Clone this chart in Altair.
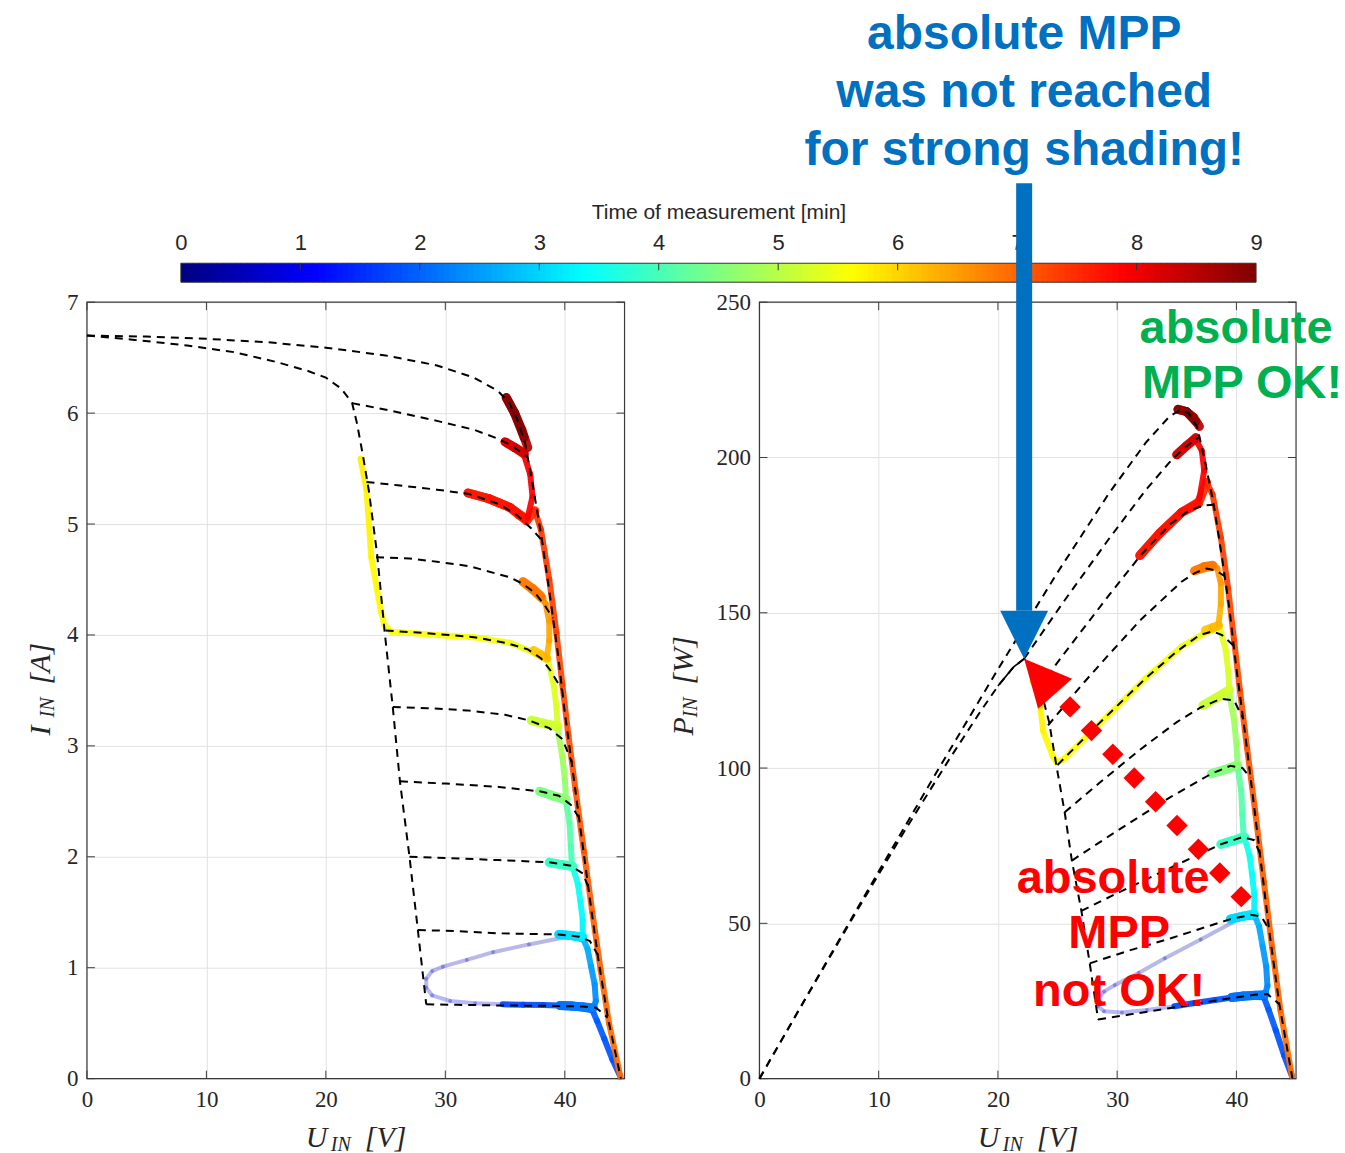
import numpy as np
import pandas as pd
import altair as alt

# ---------------- simulated characteristics: (U [V], I [A]) ----------------
# unshaded module, down to open circuit
unshaded = [(0.0, 6.70), (5.0, 6.69), (10.0, 6.67), (15.0, 6.64), (20.0, 6.59),
            (25.0, 6.52), (29.3, 6.43), (32.4, 6.32), (34.4, 6.20), (35.3, 6.10),
            (36.0, 5.95), (36.7, 5.72), (37.4, 5.30), (38.1, 4.85), (38.8, 4.32),
            (39.4, 3.85), (40.0, 3.30), (40.7, 2.75), (41.4, 2.18), (42.1, 1.62),
            (42.8, 1.08), (43.6, 0.55), (44.7, 0.00)]
# shaded module with one substring bypassed
bypassed = [(0.0, 6.70), (4.0, 6.66), (8.4, 6.61), (12.3, 6.55), (15.9, 6.46),
            (18.5, 6.38), (20.0, 6.32), (21.3, 6.22), (22.2, 6.09), (22.6, 5.91),
            (23.1, 5.62), (23.6, 5.30), (24.3, 4.72), (24.9, 4.05), (25.6, 3.35),
            (26.2, 2.68), (27.0, 2.00), (27.7, 1.34), (28.4, 0.67)]
# step from the bypassed branch to the full string, one per shading level
step_a = [(22.2, 6.09), (25.5, 6.02), (29.3, 5.93), (32.4, 5.85), (34.4, 5.77), (35.5, 5.71), (36.3, 5.65), (36.9, 5.60)]
step_b = [(23.4, 5.38), (26.0, 5.35), (29.3, 5.31), (32.0, 5.27), (34.5, 5.18), (36.0, 5.08), (37.2, 4.96), (38.1, 4.85)]
step_c = [(24.2, 4.70), (27.0, 4.69), (29.3, 4.66), (32.0, 4.62), (35.4, 4.52), (36.5, 4.46), (37.5, 4.38), (38.3, 4.27), (39.0, 4.15)]
step_d = [(25.0, 4.04), (28.0, 4.02), (32.4, 3.98), (35.0, 3.93), (36.9, 3.87), (38.0, 3.79), (38.8, 3.68), (39.8, 3.50)]
step_e = [(25.6, 3.35), (28.5, 3.34), (31.8, 3.32), (35.0, 3.28), (37.0, 3.23), (38.7, 3.16), (39.8, 3.06), (40.6, 2.85)]
step_f = [(26.2, 2.68), (30.0, 2.66), (34.5, 2.63), (37.9, 2.59), (39.5, 2.55), (40.5, 2.47), (41.2, 2.35)]
step_g = [(27.0, 2.00), (30.0, 1.99), (34.5, 1.97), (38.7, 1.95), (40.5, 1.92), (41.5, 1.85), (42.0, 1.72)]
step_h = [(27.7, 1.34), (31.0, 1.33), (34.5, 1.31), (39.5, 1.30), (41.2, 1.28), (42.1, 1.24), (42.75, 1.12)]
step_j = [(28.4, 0.67), (31.0, 0.665), (34.5, 0.66), (39.5, 0.655), (41.5, 0.65), (42.6, 0.64), (43.6, 0.55)]

# ---------------- measured operating point: (U [V], I [A], time [min]) ----------------
fast_jump = [(39.8, 1.27, 0.30), (37.0, 1.21, 0.38), (34.0, 1.14, 0.46), (31.8, 1.07, 0.52),
             (29.8, 1.01, 0.58), (28.9, 0.97, 0.62), (28.4, 0.90, 0.65), (28.4, 0.82, 0.68),
             (28.9, 0.75, 0.71), (30.4, 0.70, 0.76), (32.5, 0.68, 0.82), (34.8, 0.67, 0.90)]
run_j_left = [(34.8, 0.670, 1.70), (36.5, 0.667, 1.76), (38.2, 0.663, 1.82), (39.5, 0.660, 1.88)]
run_start = [(44.65, 0.02, 1.80), (44.0, 0.17, 1.84), (43.3, 0.36, 1.88), (42.7, 0.52, 1.92), (42.3, 0.62, 1.95)]
hold_j = [(42.3, 0.63, 1.95), (41.5, 0.645, 2.00), (40.5, 0.655, 2.05), (39.6, 0.66, 2.10),
          (40.6, 0.655, 2.15), (41.6, 0.645, 2.20), (42.4, 0.64, 2.25)]
run_jh = [(42.4, 0.64, 2.25), (42.6, 0.70, 2.30), (42.5, 0.85, 2.40), (42.2, 1.01, 2.52), (41.9, 1.17, 2.65), (41.5, 1.27, 2.78)]
hold_h = [(41.5, 1.27, 2.80), (40.5, 1.29, 2.90), (39.5, 1.30, 3.00), (40.5, 1.29, 3.10), (41.5, 1.28, 3.20)]
run_hg = [(41.5, 1.28, 3.20), (41.5, 1.43, 3.30), (41.3, 1.60, 3.40), (41.1, 1.75, 3.50), (40.7, 1.90, 3.60)]
hold_g = [(40.7, 1.91, 3.60), (39.7, 1.93, 3.70), (38.7, 1.95, 3.80), (39.7, 1.93, 3.90), (40.6, 1.92, 3.95)]
run_gf = [(40.6, 1.93, 3.95), (40.5, 2.10, 4.05), (40.4, 2.30, 4.15), (40.1, 2.50, 4.25)]
hold_f = [(40.1, 2.51, 4.25), (39.0, 2.55, 4.35), (37.9, 2.59, 4.45), (39.0, 2.55, 4.55), (40.1, 2.52, 4.60)]
run_fe = [(40.1, 2.53, 4.60), (40.0, 2.70, 4.70), (39.8, 2.90, 4.80), (39.4, 3.15, 4.90)]
hold_e = [(39.4, 3.17, 4.90), (38.3, 3.20, 5.00), (37.2, 3.23, 5.10), (38.3, 3.20, 5.18), (39.4, 3.18, 5.25)]
run_ed = [(39.4, 3.19, 5.25), (39.3, 3.35, 5.30), (39.1, 3.53, 5.35), (38.6, 3.77, 5.40)]
run_d = [(38.6, 3.78, 5.40), (38.0, 3.80, 5.43), (37.2, 3.85, 5.46), (35.4, 3.93, 5.50), (32.4, 3.98, 5.54),
         (29.3, 4.00, 5.58), (25.5, 4.03, 5.62), (24.9, 4.09, 5.64), (24.6, 4.22, 5.66), (23.8, 4.70, 5.70),
         (23.4, 5.31, 5.74), (22.9, 5.59, 5.78)]
hold_d = [(37.4, 3.86, 6.10), (38.0, 3.82, 6.18), (38.5, 3.79, 6.25)]
run_dc = [(38.5, 3.80, 6.25), (38.7, 3.95, 6.35), (38.7, 4.12, 6.45), (38.4, 4.28, 6.55), (38.1, 4.33, 6.60)]
hold_c = [(38.1, 4.33, 6.60), (37.3, 4.41, 6.68), (36.5, 4.48, 6.75), (37.3, 4.42, 6.82), (38.0, 4.35, 6.88)]
run_sweep = [(44.65, 0.02, 6.90), (43.7, 0.50, 6.95), (43.0, 0.98, 7.00), (42.3, 1.50, 7.05), (41.6, 2.05, 7.10),
             (40.9, 2.60, 7.15), (40.3, 3.10, 7.20), (39.8, 3.55, 7.25), (39.3, 4.02, 7.30), (38.7, 4.50, 7.35),
             (38.0, 4.95, 7.40), (37.5, 5.12, 7.45)]
hold_b = [(37.5, 5.12, 7.45), (36.8, 5.03, 7.50), (36.2, 5.08, 7.53), (35.4, 5.15, 7.56), (33.6, 5.23, 7.60),
          (31.9, 5.28, 7.64), (33.6, 5.23, 7.68), (35.4, 5.15, 7.72), (36.7, 5.05, 7.78)]
run_ba = [(36.9, 5.06, 7.85), (37.3, 5.25, 7.90), (37.1, 5.45, 7.95), (36.6, 5.62, 8.00)]
hold_a = [(36.6, 5.63, 8.00), (35.8, 5.69, 8.08), (35.0, 5.74, 8.15), (35.8, 5.69, 8.22), (36.6, 5.64, 8.28)]
hold_top = [(36.9, 5.69, 8.40), (36.4, 5.85, 8.55), (35.8, 6.00, 8.70), (35.1, 6.14, 8.85),
            (35.8, 6.00, 8.92), (36.6, 5.78, 9.00)]

# axis ticks
ticks_u = [0, 10, 20, 30, 40]
ticks_i = [0, 1, 2, 3, 4, 5, 6, 7]
ticks_p = [0, 50, 100, 150, 200, 250]
ticks_t = list(range(10))

# ---------------- tables ----------------
sim_curves = [("unshaded", unshaded), ("bypassed", bypassed), ("a", step_a), ("b", step_b),
              ("c", step_c), ("d", step_d), ("e", step_e), ("f", step_f), ("g", step_g),
              ("h", step_h), ("j", step_j)]
sim = pd.DataFrame([dict(curve=n, k=k, U=u, I=i, P=u * i)
                    for n, pts in sim_curves for k, (u, i) in enumerate(pts)])

pieces = [("fast", fast_jump), ("move", run_j_left), ("move", run_start), ("hold", hold_j),
          ("move", run_jh), ("hold", hold_h), ("move", run_hg), ("hold", hold_g),
          ("move", run_gf), ("hold", hold_f), ("move", run_fe), ("hold", hold_e),
          ("move", run_ed), ("move", run_d), ("hold", hold_d), ("move", run_dc),
          ("hold", hold_c), ("move", run_sweep), ("hold", hold_b), ("move", run_ba),
          ("hold", hold_a), ("hold", hold_top)]
seg = pd.DataFrame([dict(kind=kind, U=u1, I=i1, U2=u2, I2=i2, P=u1 * i1, P2=u2 * i2, t=(t1 + t2) / 2)
                    for kind, pts in pieces
                    for (u1, i1, t1), (u2, i2, t2) in zip(pts[:-1], pts[1:])])
seg = seg.sort_values("t", kind="stable").reset_index(drop=True)

# absolute maximum power point of the bypassed characteristic
byp = pd.DataFrame(bypassed, columns=["U", "I"])
byp["P"] = byp.U * byp.I
mpp = byp.loc[byp.P.idxmax()]
# the power hump around that maximum, drawn solid
hump = byp[(byp.U >= 19.5) & (byp.U <= mpp.U + 0.5)]

# ---------------- layout and style ----------------
W_L, W_R, H = 538, 537, 777
GAP = 135
CB_H = 19
CB_X0, CB_X1 = 94, 1170          # colour bar ends, relative to the left plot
P_PX = H / 250.0                  # pixels per watt in the power panel
BLUE, GREEN, RED = "#0070C0", "#00B050", "#FF0000"
INK = "#262626"

jet = alt.Scale(domain=[0, 1.125, 3.375, 5.625, 7.875, 9],
                range=["#000080", "#0000ff", "#00ffff", "#ffff00", "#ff0000", "#800000"],
                interpolate="rgb")

AX = dict(title=None, grid=True, gridColor="#e2e2e2", gridWidth=1, domain=False, ticks=False,
          tickSize=0, labelFont="Liberation Serif", labelFontSize=23, labelColor=INK,
          labelFlush=False)
one = pd.DataFrame({"k": [0]})


def x_enc(field="U"):
    return alt.X(f"{field}:Q", scale=alt.Scale(domain=[0, 45], nice=False, zero=False),
                 axis=alt.Axis(values=ticks_u, labelPadding=10, **AX))


def y_enc(field, dom, ticks):
    return alt.Y(f"{field}:Q", scale=alt.Scale(domain=dom, nice=False, zero=False),
                 axis=alt.Axis(values=ticks, labelPadding=9, **AX))


def text_at(txt, x, y, size, color=INK, font="Liberation Serif", italic=True, bold=False,
            align="left", angle=0):
    kw = dict(text=txt, font=font, fontSize=size, color=color, align=align, baseline="alphabetic")
    if italic:
        kw["fontStyle"] = "italic"
    if bold:
        kw["fontWeight"] = "bold"
    if angle:
        kw["angle"] = angle
    return alt.Chart(one).mark_text(**kw).encode(x=alt.value(x), y=alt.value(y))


def panel(width, ycol, dom, yticks, y_sym, y_unit, ytitle_x):
    X = x_enc
    Y = lambda f=ycol: y_enc(f, dom, yticks)
    layers = []
    # frame and inward ticks
    layers.append(alt.Chart(one).mark_rect(fillOpacity=0, stroke="#3a3a3a", strokeWidth=1.2).encode(
        x=alt.value(0), x2=alt.value(width), y=alt.value(0), y2=alt.value(H)))
    tx = pd.DataFrame({"v": ticks_u})
    ty = pd.DataFrame({"v": yticks})
    layers.append(alt.Chart(tx).mark_rule(color="#3a3a3a").encode(x=X("v"), y=alt.value(H), y2=alt.value(H - 8)))
    layers.append(alt.Chart(tx).mark_rule(color="#3a3a3a").encode(x=X("v"), y=alt.value(0), y2=alt.value(8)))
    layers.append(alt.Chart(ty).mark_rule(color="#3a3a3a").encode(y=Y("v"), x=alt.value(0), x2=alt.value(8)))
    layers.append(alt.Chart(ty).mark_rule(color="#3a3a3a").encode(y=Y("v"), x=alt.value(width), x2=alt.value(width - 8)))
    # measured trajectory, coloured by time
    col = alt.Color("t:Q", scale=jet, legend=None)
    layers.append(alt.Chart(seg[seg.kind == "fast"]).mark_rule(strokeWidth=4, opacity=0.28, strokeCap="round").encode(
        x=X("U"), x2="U2:Q", y=Y(), y2=f"{ycol}2:Q", color=col))
    layers.append(alt.Chart(seg[seg.kind != "fast"]).mark_rule(strokeCap="round", opacity=0.92).encode(
        x=X("U"), x2="U2:Q", y=Y(), y2=f"{ycol}2:Q", color=col,
        size=alt.when(alt.datum.kind == "hold").then(alt.value(9)).otherwise(alt.value(6))))
    # simulated curves
    layers.append(alt.Chart(sim).mark_line(color="black", strokeDash=[8, 6], strokeWidth=2).encode(
        x=X("U"), y=Y(), detail="curve:N", order="k:Q"))
    # axis titles
    cx = width / 2
    layers += [text_at("U", cx - 50, 845, 30), text_at("IN", cx - 25, 849, 20),
               text_at("[V]", cx + 9, 845, 30)]
    cy = H / 2
    layers += [text_at(y_sym, ytitle_x, cy + 45, 30, angle=270),
               text_at("IN", ytitle_x + 4, cy + 27, 20, angle=270),
               text_at(y_unit, ytitle_x, cy - 6, 30, angle=270)]
    return layers


left_layers = panel(W_L, "I", [0, 7], ticks_i, "I", "[A]", -37)
right_layers = panel(W_R, "P", [0, 250], ticks_p, "P", "[W]", -66)

# ---------------- annotations on the power panel ----------------
X = x_enc
YP = lambda f="P": y_enc(f, [0, 250], ticks_p)
head_px = 48
shaft = pd.DataFrame({"U": [mpp.U], "P": [250 + 119 / P_PX], "P2": [mpp.P + head_px / P_PX]})
tip = pd.DataFrame({"U": [mpp.U], "P": [mpp.P]})
dots = pd.DataFrame({"U": np.linspace(26.05, 40.4, 9), "P": np.linspace(119.7, 58.6, 9)})

right_layers += [
    alt.Chart(hump).mark_line(color="black", strokeWidth=1.6).encode(x=X("U"), y=YP()),
    alt.Chart(shaft).mark_rule(color=BLUE, strokeWidth=16, strokeCap="butt").encode(x=X("U"), y=YP(), y2="P2:Q"),
    alt.Chart(tip).mark_point(shape="M-1,-2L1,-2L0,0Z", size=head_px ** 2, filled=True, color=BLUE,
                              opacity=1, strokeWidth=0).encode(x=X("U"), y=YP()),
    alt.Chart(tip).mark_point(shape="M0,0L2,0.833L0.583,2.083Z", size=head_px ** 2, filled=True, color=RED,
                              opacity=1, strokeWidth=0).encode(x=X("U"), y=YP()),
    alt.Chart(dots).mark_point(shape="diamond", size=460, filled=True, color=RED, opacity=1,
                               strokeWidth=0).encode(x=X("U"), y=YP()),
]
SANS = "Liberation Sans"
for txt, x, y in [("absolute MPP", 265, -253), ("was not reached", 265, -195), ("for strong shading!", 265, -137)]:
    right_layers.append(text_at(txt, x, y, 48, color=BLUE, font=SANS, italic=False, bold=True, align="center"))
for txt, x, y in [("absolute", 477, 41), ("MPP OK!", 483, 96)]:
    right_layers.append(text_at(txt, x, y, 47, color=GREEN, font=SANS, italic=False, bold=True, align="center"))
for txt, x, y in [("absolute", 354, 591), ("MPP", 360, 646), ("not OK!", 360, 704)]:
    right_layers.append(text_at(txt, x, y, 47, color=RED, font=SANS, italic=False, bold=True, align="center"))

left = alt.layer(*left_layers).properties(width=W_L, height=H)
right = alt.layer(*right_layers).properties(width=W_R, height=H)

# ---------------- colour bar ----------------
CB_W = W_L + GAP + W_R
px_per_min = (CB_X1 - CB_X0) / 9.0
cb_lo = -CB_X0 / px_per_min
cb_hi = cb_lo + CB_W / px_per_min
cb_scale = alt.Scale(domain=[cb_lo, cb_hi], nice=False, zero=False)
cells = pd.DataFrame({"t0": np.arange(0, 9, 0.05)})
cells["t1"] = np.minimum(cells.t0 + 0.06, 9)
cells["tm"] = cells.t0 + 0.025
cb_axis = alt.Axis(orient="top", values=ticks_t, grid=False, domain=False, ticks=False, tickSize=0,
                   labelFont=SANS, labelFontSize=22, labelColor=INK, labelPadding=14,
                   labelBaseline="alphabetic", labelFlush=False,
                   title="Time of measurement [min]", titleFont=SANS, titleFontSize=21,
                   titleFontWeight="normal", titleColor=INK,
                   titleX=(CB_X0 + CB_X1) / 2, titleY=-45, titleAlign="center",
                   titleBaseline="alphabetic")
cb_cells = alt.Chart(cells).mark_rect().encode(
    x=alt.X("t0:Q", scale=cb_scale, axis=cb_axis), x2="t1:Q",
    y=alt.value(0), y2=alt.value(CB_H), color=alt.Color("tm:Q", scale=jet, legend=None))
cb_border = alt.Chart(pd.DataFrame({"a": [0], "b": [9]})).mark_rect(fillOpacity=0, stroke="#333", strokeWidth=1).encode(
    x=alt.X("a:Q", scale=cb_scale, axis=cb_axis), x2="b:Q", y=alt.value(0), y2=alt.value(CB_H))
cb_ticks = alt.Chart(pd.DataFrame({"v": ticks_t[1:-1]})).mark_rule(color="#333").encode(
    x=alt.X("v:Q", scale=cb_scale, axis=cb_axis), y=alt.value(0), y2=alt.value(7))
cbar = alt.layer(cb_cells, cb_border, cb_ticks).properties(width=CB_W, height=CB_H)

panels = alt.hconcat(left, right, spacing=GAP, bounds="flush")
chart = alt.vconcat(cbar, panels, spacing=20, bounds="flush").properties(
    padding={"left": 26, "top": 11, "right": 2, "bottom": 2}
).configure_view(stroke=None)

chart.save("out.html", embed_options={"renderer": "svg", "actions": False})
